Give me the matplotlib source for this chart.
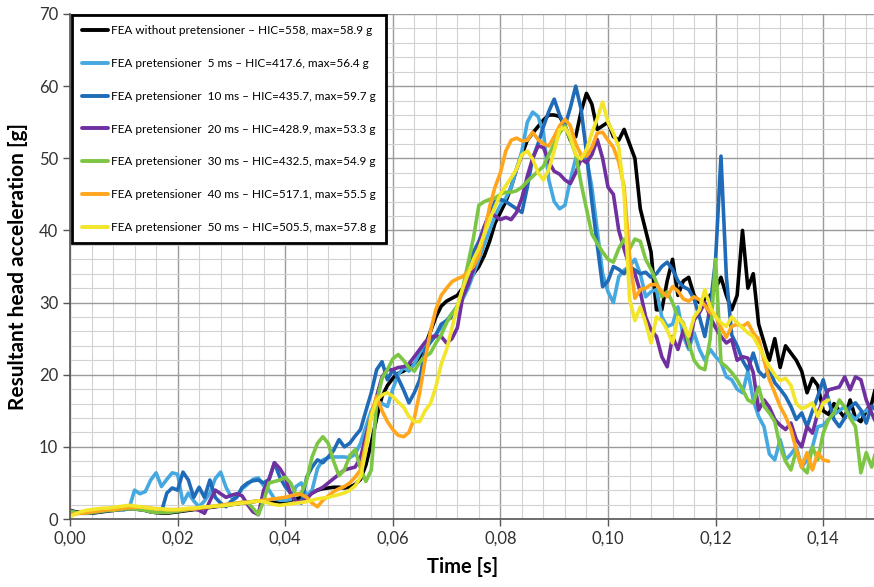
import numpy as np
import matplotlib
matplotlib.use("Agg")
import matplotlib.pyplot as plt
from matplotlib.ticker import MultipleLocator, FuncFormatter

# time grid (s), 1 ms sampling
time_s = np.round(np.arange(0, 151) * 0.001, 3)

labels = [
    "FEA without pretensioner \u2013 HIC=558, max=58.9 g",
    "FEA pretensioner  5 ms \u2013 HIC=417.6, max=56.4 g",
    "FEA pretensioner  10 ms \u2013 HIC=435.7, max=59.7 g",
    "FEA pretensioner  20 ms \u2013 HIC=428.9, max=53.3 g",
    "FEA pretensioner  30 ms \u2013 HIC=432.5, max=54.9 g",
    "FEA pretensioner  40 ms \u2013 HIC=517.1, max=55.5 g",
    "FEA pretensioner  50 ms \u2013 HIC=505.5, max=57.8 g",
]
colors = ["#000000", "#45A8E0", "#1F6BB8", "#7030A0", "#7CC644", "#FFA61C", "#F2E52A"]

no_pret = [
    1.2, 1.0, 0.9, 0.8, 0.8, 0.9, 1.0, 1.1, 1.2, 1.3,
    1.4, 1.5, 1.5, 1.4, 1.2, 1.0, 0.9, 0.8, 0.8, 0.9,
    1.0, 1.1, 1.2, 1.3, 1.4, 1.5, 1.6, 1.7, 1.8, 1.9,
    2.0, 2.1, 2.2, 2.3, 2.4, 2.5, 2.5, 2.4, 2.3, 2.3,
    2.4, 2.6, 2.8, 3.0, 3.3, 3.6, 4.0, 4.2, 4.3, 4.4,
    4.4, 4.3, 4.4, 4.8, 5.5, 7.5, 10.5, 14, 17, 18.5,
    19.5, 20.2, 20.5, 21, 21.5, 22.5, 24, 26, 28, 29.5,
    30.2, 30.6, 31, 32, 33, 34, 35, 36.5, 38.5, 41,
    42.5, 44, 46, 48.5, 50.5, 52.5, 53.5, 54.4, 55.3, 56,
    56, 55.8, 54.5, 52.5, 53, 56.5, 59, 57.5, 54, 54.5,
    55, 53, 52.5, 54, 52, 50, 43, 40, 37, 29,
    29, 33, 36, 31, 33, 33.5, 31, 30, 30.5, 31,
    32, 33.5, 31, 29, 31, 40, 32, 34, 27, 24.5,
    22, 25, 21, 24, 23, 22, 20.5, 17.5, 19.5, 18.5,
    15, 14.5, 16, 15, 14, 16.5, 14, 13.5, 15, 16,
    19,
]

pret_5 = [
    1.0, 0.9, 0.8, 0.8, 0.9, 1.0, 1.1, 1.2, 1.2, 1.3,
    1.3, 1.5, 4.0, 3.5, 3.8, 5.4, 6.4, 4.5, 5.5, 6.4,
    6.2, 2.2, 3.6, 2.5, 1.7, 2.5, 3.6, 5.6, 6.5, 4.4,
    3.0, 3.2, 4.2, 4.8, 5.5, 5.7, 4.6, 4.0, 2.8, 2.6,
    2.6, 2.7, 4.5, 5.0, 3.2, 4.0, 7.0, 8.2, 8.5, 8.6,
    8.6, 8.6, 8.5, 9.0, 10.5, 12.8, 15.0, 16.3, 16.0, 15.6,
    18.0, 20.0, 21.0, 20.5, 21.5, 23.0, 24.0, 24.8, 25.6, 26.5,
    27.5, 28.5, 29.5, 30.5, 32, 34, 36, 38, 40, 42,
    43.5, 44.5, 46, 48.5, 51, 55, 56.4, 55.8, 53.6, 47,
    44, 43, 43.5, 47, 50, 50.3, 50, 46, 40, 34,
    31.5, 30, 33.6, 34.5, 35, 36, 34, 30.8, 31.5, 31.8,
    28, 26.7, 27, 29.4, 25.3, 23.5, 25.8, 23.5, 22, 23.5,
    22.5, 21.7, 19.7, 19.3, 18, 17.5, 20.5, 16.5, 14.2, 12.8,
    9.0, 8.2, 11, 8.2, 9, 10, 7.2, 8.2, 10, 12.8,
    13.0, 13.8, 14.5, 15.0, 15.6, 14.5, 13.8, 14.7, 15.0, 15.6,
    15.6,
]

pret_10 = [
    1.0, 0.9, 0.8, 0.8, 0.9, 1.0, 1.1, 1.2, 1.2, 1.3,
    1.3, 1.4, 1.4, 1.3, 1.2, 1.0, 0.9, 1.0, 3.6, 4.3,
    4.0, 6.5, 5.4, 3.0, 4.4, 3.0, 5.4, 3.0, 2.2, 1.7,
    2.5, 3.0, 4.4, 5.0, 5.3, 5.4, 5.0, 5.5, 7.8, 5.8,
    4.5, 3.6, 2.5, 2.2, 5.8, 7.2, 8.2, 7.8, 8.6, 9.5,
    11, 10, 10.5, 11.5, 12.4, 15, 17.5, 20.7, 21.8, 19.3,
    20.7, 19.5, 17.9, 16.1, 17.5, 19.3, 23.5, 24.5, 25.5, 27,
    27.5, 28, 29.5, 31.5, 34, 37, 38.5, 40.5, 42, 44,
    44.3, 44, 43.5, 43, 42.5, 46, 50, 52, 54.4, 56.5,
    58.2, 56, 54.5, 57, 60, 56.8, 50.8, 44, 38, 32.2,
    33, 35, 34.6, 34, 35, 34.5, 34, 34.2, 33.5, 34,
    35, 35.6, 34.6, 33, 32.2, 31.8, 30.5, 28, 25.3, 29.4,
    36, 50.3, 33.6, 25.5, 24, 22, 20.7, 23, 20.5, 19.7,
    20.7, 18.9, 18, 17, 15.6, 13.8, 14.7, 12.8, 15, 17,
    19.3, 16.5, 13.8, 12.8, 14, 15.5, 16.1, 15.1, 13.3, 15.6,
    15,
]

pret_20 = [
    1.1, 0.9, 0.8, 0.8, 0.9, 1.0, 1.1, 1.2, 1.2, 1.3,
    1.4, 1.4, 1.4, 1.3, 1.2, 1.0, 0.9, 0.9, 0.9, 1.0,
    1.1, 1.2, 1.3, 1.4, 1.2, 0.8, 2.5, 4.0, 3.5, 3.0,
    3.3, 3.5, 3.2, 2.0, 1.0, 0.6, 4.0, 5.5, 7.8, 7.0,
    5.8, 3.5, 2.4, 2.4, 2.8, 3.6, 4.0, 4.4, 5.0, 5.6,
    6.2, 6.8, 7.0, 7.2, 8.5, 11.5, 14.2, 17, 19.7, 20.7,
    20.7, 21, 21.1, 21.5, 22.5, 23.5, 24.5, 25.3, 25.3, 25.3,
    24.4, 25, 26.5, 30.8, 32.5, 34.6, 38, 40.5, 42.5, 42,
    41.5, 41.8, 41.5, 42.5, 44.5, 47.5, 50, 51.7, 51.5, 49.5,
    48.2, 47.8, 47, 46.5, 48, 49.9, 49.4, 50.5, 52.6, 50,
    46, 45, 40, 37.4, 35, 34, 31.5, 28, 26.2, 25.3,
    22.5, 21.1, 25.3, 23.5, 26.2, 23.9, 27.6, 28.6, 30, 28,
    26.5, 25.3, 24.4, 24.9, 22, 22.5, 22.3, 20.3, 15.1, 16.5,
    15.5, 13.8, 13, 12.4, 13.3, 11, 10, 12.8, 11.9, 14.7,
    16.5, 17.9, 18.1, 18.3, 19.7, 17.9, 19.7, 19.3, 16.5, 14.7,
    13,
]

pret_30 = [
    1.1, 0.9, 0.8, 0.8, 0.9, 1.0, 1.1, 1.2, 1.2, 1.3,
    1.4, 1.4, 1.4, 1.3, 1.2, 1.0, 0.9, 0.9, 0.9, 1.0,
    1.1, 1.2, 1.3, 1.4, 1.5, 1.6, 1.7, 1.8, 1.9, 2.0,
    2.1, 2.2, 2.3, 2.3, 1.5, 0.6, 2.5, 5.0, 5.2, 5.4,
    5.8, 5.0, 3.4, 3.6, 5.4, 8.6, 10.5, 11.4, 10.5, 8.0,
    6.0, 6.8, 8.8, 9.6, 7.0, 5.2, 6.8, 16.1, 19.5, 20.7,
    22.2, 22.8, 22, 21, 20.5, 21.7, 22.5, 23, 24.4, 25.5,
    27.2, 28.5, 29.4, 32, 35.5, 39, 43.5, 44, 44.3, 44.5,
    45, 45.3, 45.3, 45.5, 46, 46.8, 47.5, 48.2, 48.9, 50.5,
    52, 53.5, 54.5, 52.6, 50.5, 46.5, 43, 39.5, 38.2, 37,
    36, 35.6, 37.5, 38.8, 37.4, 38.8, 38.5, 36, 34.6, 32.8,
    30.8, 31.5, 30, 28, 27.2, 24.4, 22, 21, 20.7, 25,
    36, 21.7, 21.1, 20.3, 19.3, 18, 16.5, 16.1, 18.3, 15.6,
    14.7, 13.5, 10, 8, 6.8, 9.5, 7.2, 6.4, 10, 8.2,
    11.9, 13.8, 14.7, 16.5, 15.5, 14, 12.8, 6.4, 9.2, 7.2,
    10,
]

pret_40 = [
    0.6, 0.7, 0.8, 0.9, 1.0, 1.1, 1.2, 1.3, 1.3, 1.4,
    1.5, 1.6, 1.6, 1.7, 1.6, 1.5, 1.4, 1.4, 1.3, 1.3,
    1.3, 1.3, 1.4, 1.4, 1.5, 1.6, 1.7, 1.8, 1.9, 2.0,
    2.1, 2.2, 2.3, 2.3, 2.4, 2.5, 2.6, 2.7, 2.8, 2.9,
    3.0, 3.2, 3.4, 3.4, 3.0, 2.2, 1.7, 2.6, 3.2, 3.8,
    4.2, 4.5, 5.0, 5.8, 6.8, 10.5, 14.5, 17.0, 15.0, 13.5,
    12.4, 11.6, 11.4, 12, 14, 17.5, 22, 26, 29, 31,
    32, 32.9, 33.3, 33.6, 34.3, 35, 36.5, 39.5, 43.3, 46,
    48, 51, 52.5, 52.8, 52.4, 52.5, 53.6, 52.6, 52, 51.7,
    53, 54.5, 55.4, 54.5, 52, 50.5, 50.3, 51.5, 53.5, 53.6,
    52.5, 51.5, 49.5, 46, 36.5, 30.6, 31.8, 32, 32.5, 32.5,
    31.5, 30.8, 32.2, 31.6, 30.5, 30.2, 30.8, 30.4, 29.6, 28.6,
    28.2, 26.5, 25.2, 26.7, 27, 26.7, 27.2, 25.8, 24.9, 22,
    19.3, 17.5, 15.6, 14.2, 12.4, 9.6, 7.2, 9.2, 6.8, 9.2,
    8.2, 8.0,
]

pret_50 = [
    0.3, 0.7, 1.0, 1.2, 1.3, 1.4, 1.5, 1.5, 1.6, 1.7,
    1.8, 1.9, 1.8, 1.7, 1.6, 1.5, 1.4, 1.4, 1.3, 1.3,
    1.3, 1.4, 1.5, 1.5, 1.6, 1.7, 1.7, 1.8, 1.8, 1.9,
    2.0, 2.1, 2.2, 2.3, 2.4, 2.5, 2.4, 2.2, 2.0, 1.9,
    2.0, 2.1, 2.2, 2.3, 2.4, 2.6, 2.8, 2.9, 3.0, 3.2,
    3.4, 3.6, 4.0, 4.6, 5.8, 9.5, 14.2, 16.5, 17.2, 17.5,
    17, 16.2, 15.5, 14.2, 13.5, 13.5, 15, 16, 18.3, 21.5,
    23.5, 26.5, 29.5, 32, 34, 36, 37.5, 39.5, 41.5, 43.3,
    45, 46.2, 47.3, 48.5, 50.5, 51, 49.9, 48, 47, 48.5,
    51, 54, 54.2, 53, 50.5, 49.9, 51.2, 53.5, 55.5, 57.8,
    55, 53.5, 51.5, 45, 30.5, 27.5, 29.4, 27.2, 24.4, 28,
    27.5, 26.2, 24.4, 28, 27, 25.3, 28, 29, 31.8, 29.4,
    28, 27.2, 26.7, 28, 27.2, 26.5, 25.8, 25.3, 23.9, 22.5,
    21.1, 20, 19.2, 19.5, 18.5, 16, 15.3, 15.6, 16.1, 14.2,
    16.1, 16.5,
]

series = [no_pret, pret_5, pret_10, pret_20, pret_30, pret_40, pret_50]

plt.rcParams['font.family'] = ['Lato', 'DejaVu Sans']

fig = plt.figure(figsize=(8.74, 5.87), dpi=100)
ax = fig.add_axes([70 / 874, 68 / 587, 807 / 874, 505 / 587])

for vals, col, lab in zip(series, colors, labels):
    ax.plot(time_s[:len(vals)], vals, color=col, lw=2.6, label=lab,
            solid_joinstyle='round', solid_capstyle='round')

ax.set_xlim(0, 0.15)
ax.set_ylim(0, 70)
ax.xaxis.set_major_locator(MultipleLocator(0.02))
ax.xaxis.set_minor_locator(MultipleLocator(0.004))
ax.yaxis.set_major_locator(MultipleLocator(10))
ax.yaxis.set_minor_locator(MultipleLocator(2))
ax.xaxis.set_major_formatter(FuncFormatter(lambda v, p: f"{v:.2f}".replace('.', ',')))
ax.grid(which='major', color='#9a9a9a', lw=1.0)
ax.grid(which='minor', color='#d2d2d2', lw=0.8)
ax.set_axisbelow(True)
for s in ['top', 'right']:
    ax.spines[s].set_visible(False)
for s in ['left', 'bottom']:
    ax.spines[s].set_color('#555555')
    ax.spines[s].set_linewidth(1.2)
ax.tick_params(which='major', length=5, width=1, color='#555555', labelsize=12,
               labelcolor='#333333')
ax.tick_params(which='minor', length=0)

ax.set_xlabel("Time [s]", fontsize=14.5, fontweight='bold')
ax.xaxis.set_label_coords((463 - 70) / 807, -(557 - 519) / 505)
ax.set_ylabel("Resultant head acceleration [g]", fontsize=15, fontweight='bold', labelpad=8)

leg = ax.legend(loc='upper left', bbox_to_anchor=(2 / 807, 1 - 1 / 505), fontsize=8.5,
                frameon=True, fancybox=False, handlelength=2.2, handletextpad=0.25,
                labelspacing=1.85, borderpad=0.85, borderaxespad=0.0)
leg.get_frame().set_edgecolor('black')
leg.get_frame().set_linewidth(2.0)
leg.get_frame().set_alpha(1)
for lh in leg.get_lines():
    lh.set_linewidth(2.8)

fig.savefig("out.png", dpi=100)
